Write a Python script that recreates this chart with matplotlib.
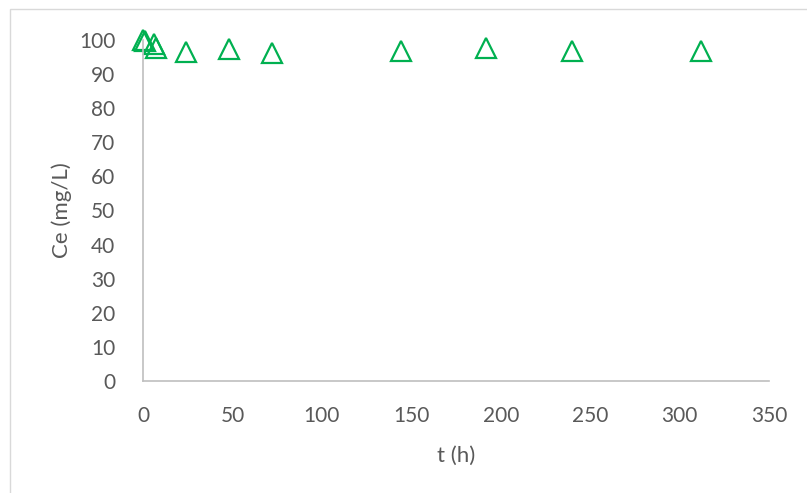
import matplotlib.pyplot as plt
from matplotlib.patches import Rectangle

# tiempo (h) y concentración en equilibrio (mg/L)
t_h = [0, 1, 6, 7, 24, 48, 72, 144, 192, 240, 312]
ce = [100, 99.6, 98.8, 97.6, 96.5, 97.3, 96.3, 96.8, 97.6, 96.9, 96.9]

x_ticks = [0, 50, 100, 150, 200, 250, 300, 350]
y_ticks = [0, 10, 20, 30, 40, 50, 60, 70, 80, 90, 100]

gris = '#595959'
plt.rcParams['font.family'] = ['Lato', 'DejaVu Sans']

fig = plt.figure(figsize=(8.07, 4.93), dpi=100)
ax = fig.add_axes([143 / 807, 1 - 381 / 493, 626 / 807, 341 / 493])

# marco del gráfico
fig.patches.append(Rectangle((10 / 807, -0.1), 1.2, 1 - 9 / 493 + 0.1,
                             transform=fig.transFigure, fill=False,
                             edgecolor='#D9D9D9', linewidth=1))

ax.plot(t_h, ce, linestyle='none', marker='^', markersize=14,
        markerfacecolor='none', markeredgecolor='#00B050', markeredgewidth=1.6,
        clip_on=False)

ax.set_xlim(0, 350)
ax.set_ylim(0, 100)
ax.set_xticks(x_ticks)
ax.set_yticks(y_ticks)
ax.tick_params(length=0, labelsize=15, colors=gris, pad=18)
ax.tick_params(axis='y', pad=20)
for s in ['top', 'right']:
    ax.spines[s].set_visible(False)
for s in ['left', 'bottom']:
    ax.spines[s].set_color('#BFBFBF')
    ax.spines[s].set_linewidth(1.2)

ax.set_xlabel('t (h)', fontsize=16, color=gris, labelpad=14)
ax.set_ylabel('Ce (mg/L)', fontsize=16, color=gris, labelpad=5)

fig.savefig('out.png', dpi=100)
